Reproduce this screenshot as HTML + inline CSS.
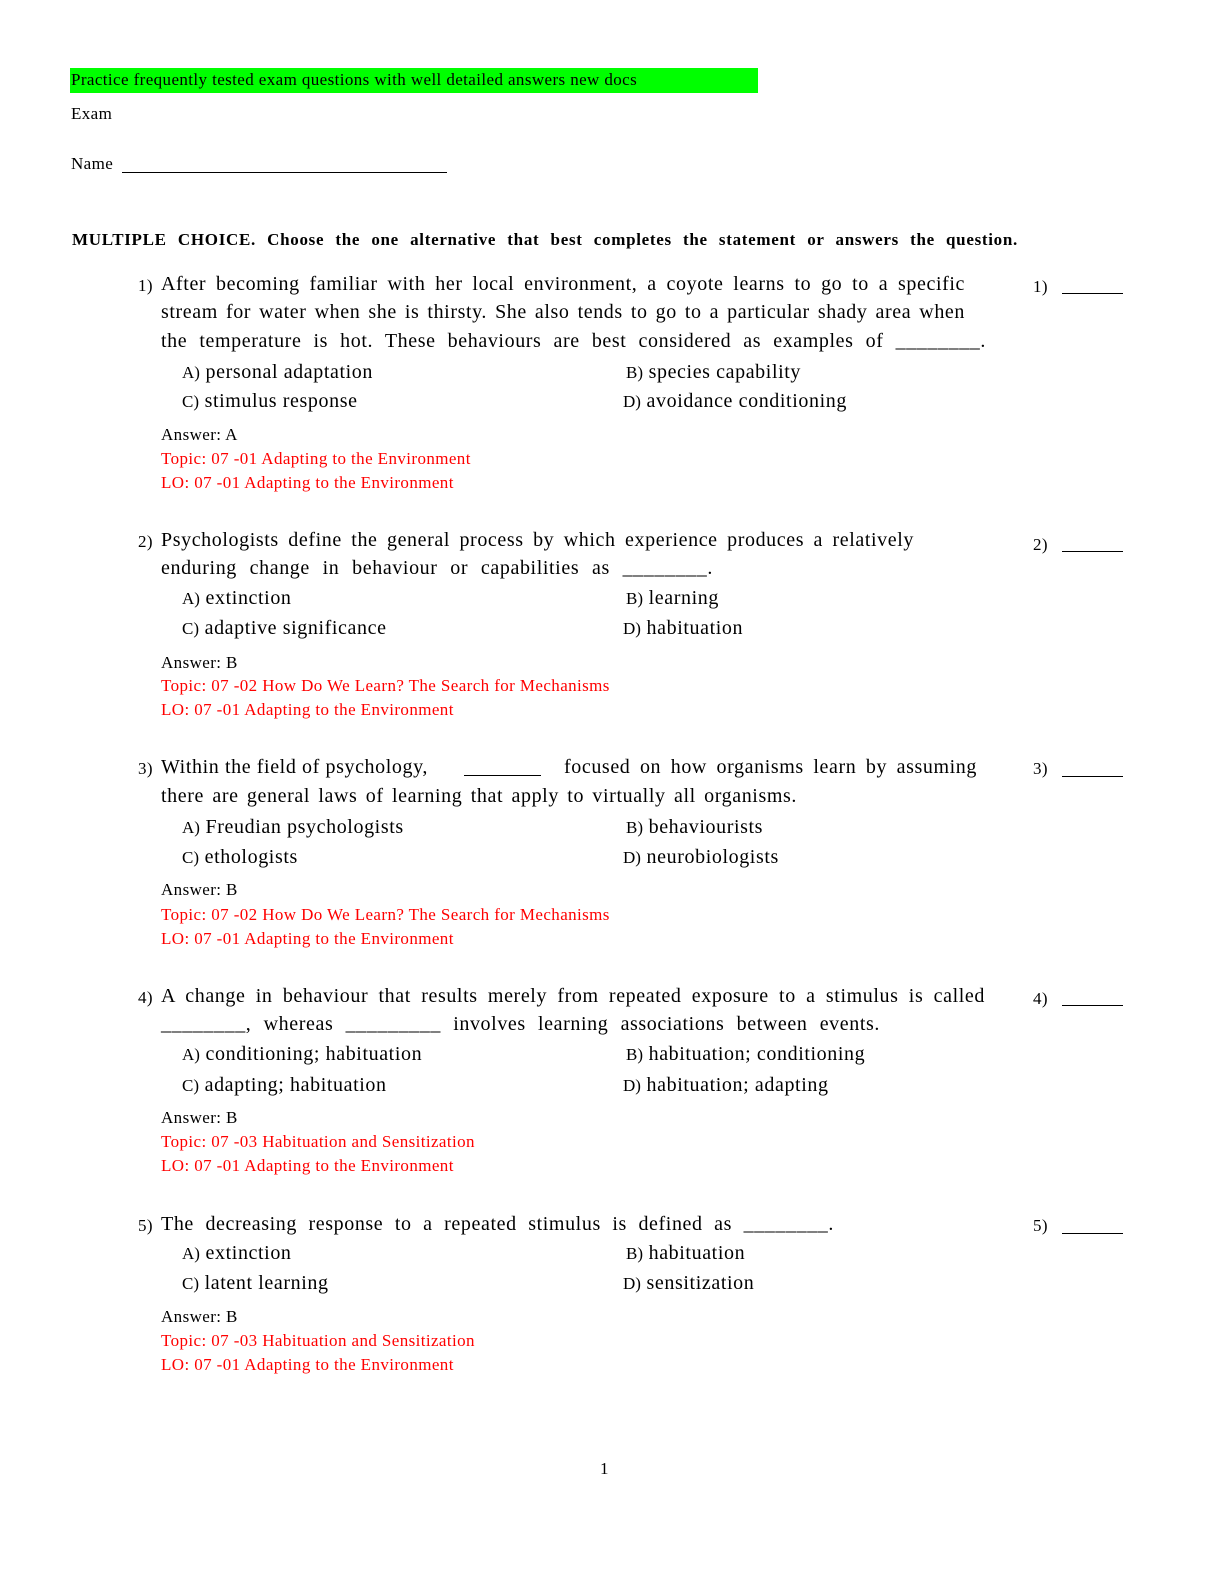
<!DOCTYPE html>
<html><head><meta charset="utf-8"><style>
html,body{margin:0;padding:0;background:#fff;}
body{width:1229px;height:1590px;position:relative;overflow:hidden;font-family:"Liberation Serif",serif;color:#000;}
.t{position:absolute;white-space:nowrap;line-height:24px;font-size:20px;letter-spacing:0.6px;}
.s{position:absolute;white-space:nowrap;line-height:20px;font-size:17px;letter-spacing:0.4px;}
.j{text-align:justify;text-align-last:justify;white-space:normal;}
.r{color:#f00;}
.sm{font-size:17px;letter-spacing:0;}
.u{position:absolute;height:0;border-top:1.5px solid #000;}
</style></head><body>
<div style="position:absolute;left:70px;top:68px;width:688px;height:25px;background:#00ff00;"></div>
<div class="s" style="left:71px;top:70px;">Practice frequently tested exam questions with well detailed answers new docs</div>
<div class="s" style="left:71px;top:104px;">Exam</div>
<div class="s" style="left:71px;top:154px;">Name</div>
<div class="u" style="left:122px;width:325px;top:172px;"></div>
<div class="s" style="left:72px;top:230px;font-weight:bold;width:946px;letter-spacing:0.7px;"><span class="j" style="display:block;width:946px;">MULTIPLE CHOICE. Choose the one alternative that best completes the statement or answers the question.</span></div>

<!-- Q1 -->
<div class="s" style="left:138px;top:276px;">1)</div>
<div class="t j" style="left:161px;top:272px;width:804px;">After becoming familiar with her local environment, a coyote learns to go to a specific</div>
<div class="t j" style="left:161px;top:300px;width:804px;">stream for water when she is thirsty. She also tends to go to a particular shady area when</div>
<div class="t j" style="left:161px;top:329px;width:825px;">the temperature is hot. These behaviours are best considered as examples of ________.</div>
<div class="s" style="left:1033px;top:277px;">1)</div><div class="u" style="left:1062px;width:61px;top:293px;"></div>
<div class="t" style="left:182px;top:360px;"><span class="sm">A)</span> personal adaptation</div>
<div class="t" style="left:626px;top:360px;"><span class="sm">B)</span> species capability</div>
<div class="t" style="left:182px;top:389px;"><span class="sm">C)</span> stimulus response</div>
<div class="t" style="left:623px;top:389px;"><span class="sm">D)</span> avoidance conditioning</div>
<div class="s" style="left:161px;top:425px;">Answer: A</div>
<div class="s r" style="left:161px;top:449px;">Topic: 07 -01 Adapting to the Environment</div>
<div class="s r" style="left:161px;top:473px;">LO: 07 -01 Adapting to the Environment</div>

<!-- Q2 -->
<div class="s" style="left:138px;top:532px;">2)</div>
<div class="t j" style="left:161px;top:528px;width:753px;">Psychologists define the general process by which experience produces a relatively</div>
<div class="t j" style="left:161px;top:556px;width:552px;">enduring change in behaviour or capabilities as ________.</div>
<div class="s" style="left:1033px;top:535px;">2)</div><div class="u" style="left:1062px;width:61px;top:551px;"></div>
<div class="t" style="left:182px;top:586px;"><span class="sm">A)</span> extinction</div>
<div class="t" style="left:626px;top:586px;"><span class="sm">B)</span> learning</div>
<div class="t" style="left:182px;top:616px;"><span class="sm">C)</span> adaptive significance</div>
<div class="t" style="left:623px;top:616px;"><span class="sm">D)</span> habituation</div>
<div class="s" style="left:161px;top:653px;">Answer: B</div>
<div class="s r" style="left:161px;top:676px;">Topic: 07 -02 How Do We Learn? The Search for Mechanisms</div>
<div class="s r" style="left:161px;top:700px;">LO: 07 -01 Adapting to the Environment</div>

<!-- Q3 -->
<div class="s" style="left:138px;top:759px;">3)</div>
<div class="t" style="left:161px;top:755px;">Within the field of psychology,</div>
<div class="u" style="left:464px;width:77px;top:775px;"></div>
<div class="t j" style="left:564px;top:755px;width:413px;">focused on how organisms learn by assuming</div>
<div class="t j" style="left:161px;top:784px;width:636px;">there are general laws of learning that apply to virtually all organisms.</div>
<div class="s" style="left:1033px;top:759px;">3)</div><div class="u" style="left:1062px;width:61px;top:776px;"></div>
<div class="t" style="left:182px;top:815px;"><span class="sm">A)</span> Freudian psychologists</div>
<div class="t" style="left:626px;top:815px;"><span class="sm">B)</span> behaviourists</div>
<div class="t" style="left:182px;top:845px;"><span class="sm">C)</span> ethologists</div>
<div class="t" style="left:623px;top:845px;"><span class="sm">D)</span> neurobiologists</div>
<div class="s" style="left:161px;top:880px;">Answer: B</div>
<div class="s r" style="left:161px;top:905px;">Topic: 07 -02 How Do We Learn? The Search for Mechanisms</div>
<div class="s r" style="left:161px;top:929px;">LO: 07 -01 Adapting to the Environment</div>

<!-- Q4 -->
<div class="s" style="left:138px;top:988px;">4)</div>
<div class="t j" style="left:161px;top:984px;width:824px;">A change in behaviour that results merely from repeated exposure to a stimulus is called</div>
<div class="t j" style="left:161px;top:1012px;width:719px;">________, whereas _________ involves learning associations between events.</div>
<div class="s" style="left:1033px;top:989px;">4)</div><div class="u" style="left:1062px;width:61px;top:1005px;"></div>
<div class="t" style="left:182px;top:1042px;"><span class="sm">A)</span> conditioning; habituation</div>
<div class="t" style="left:626px;top:1042px;"><span class="sm">B)</span> habituation; conditioning</div>
<div class="t" style="left:182px;top:1073px;"><span class="sm">C)</span> adapting; habituation</div>
<div class="t" style="left:623px;top:1073px;"><span class="sm">D)</span> habituation; adapting</div>
<div class="s" style="left:161px;top:1108px;">Answer: B</div>
<div class="s r" style="left:161px;top:1132px;">Topic: 07 -03 Habituation and Sensitization</div>
<div class="s r" style="left:161px;top:1156px;">LO: 07 -01 Adapting to the Environment</div>

<!-- Q5 -->
<div class="s" style="left:138px;top:1216px;">5)</div>
<div class="t j" style="left:161px;top:1212px;width:673px;">The decreasing response to a repeated stimulus is defined as ________.</div>
<div class="s" style="left:1033px;top:1216px;">5)</div><div class="u" style="left:1062px;width:61px;top:1233px;"></div>
<div class="t" style="left:182px;top:1241px;"><span class="sm">A)</span> extinction</div>
<div class="t" style="left:626px;top:1241px;"><span class="sm">B)</span> habituation</div>
<div class="t" style="left:182px;top:1271px;"><span class="sm">C)</span> latent learning</div>
<div class="t" style="left:623px;top:1271px;"><span class="sm">D)</span> sensitization</div>
<div class="s" style="left:161px;top:1307px;">Answer: B</div>
<div class="s r" style="left:161px;top:1331px;">Topic: 07 -03 Habituation and Sensitization</div>
<div class="s r" style="left:161px;top:1355px;">LO: 07 -01 Adapting to the Environment</div>

<div class="s" style="left:600px;top:1459px;">1</div>
</body></html>
